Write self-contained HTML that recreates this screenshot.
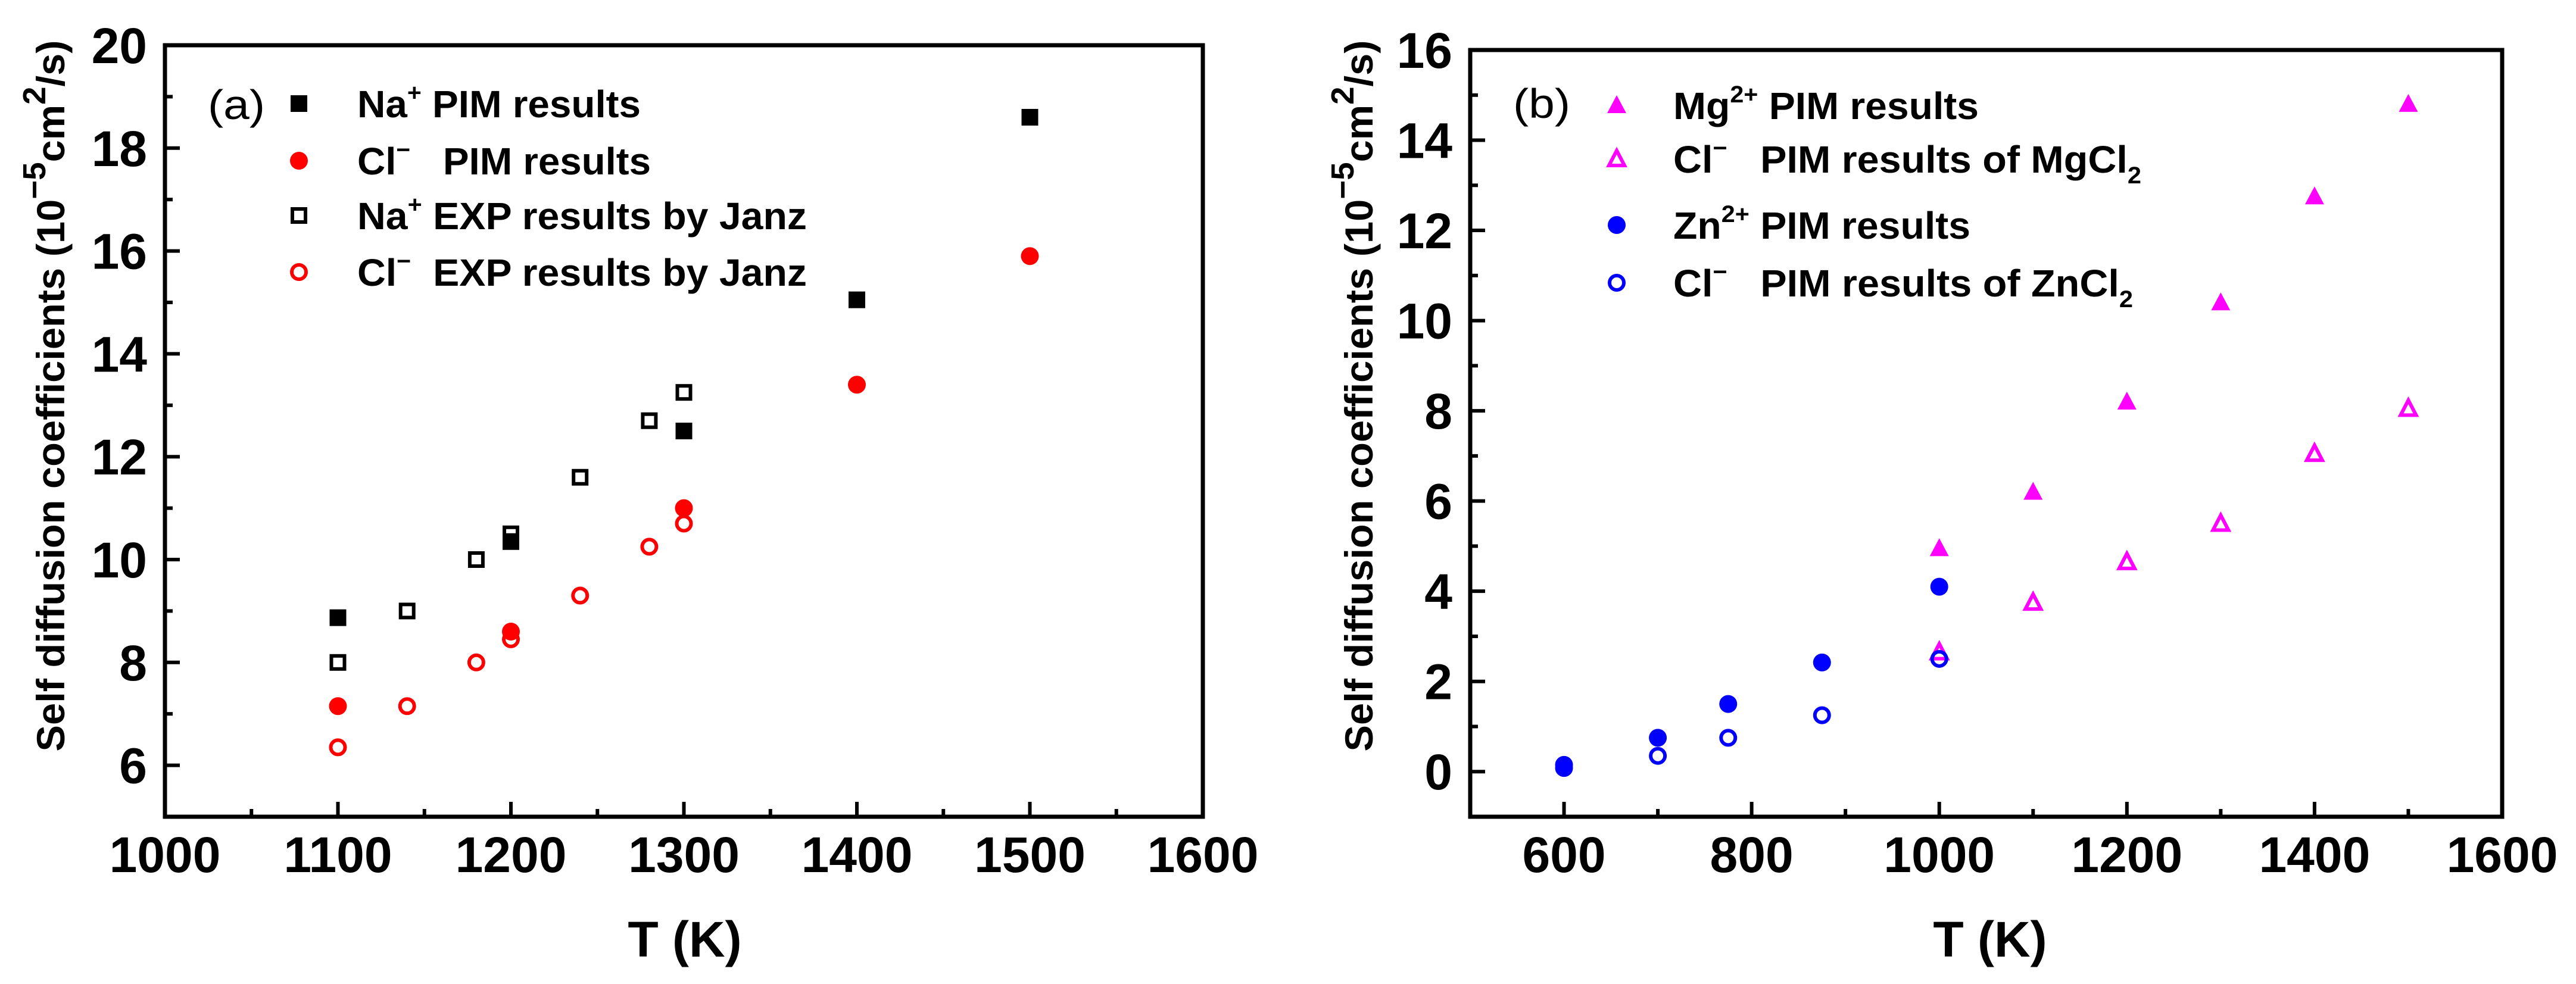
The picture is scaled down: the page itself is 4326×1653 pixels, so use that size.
<!DOCTYPE html>
<html><head><meta charset="utf-8"><style>
html,body{margin:0;padding:0;background:#fff;}
svg{display:block;font-family:"Liberation Sans",Arial,sans-serif;font-weight:bold;}
</style></head><body>
<svg id="fig" width="4326" height="1653" viewBox="0 0 4326 1653" xmlns="http://www.w3.org/2000/svg">
<rect x="0" y="0" width="4326" height="1653" fill="#fff"/>
</svg>
<script>
// Panel (a) data
const aNaPimT = [1100, 1200, 1300, 1400, 1500];
const aNaPimD = [8.87, 10.35, 12.5, 15.05, 18.6];
const aClPimT = [1100, 1200, 1300, 1400, 1500];
const aClPimD = [7.15, 8.6, 11.0, 13.4, 15.9];
const aNaExpT = [1100, 1140, 1180, 1200, 1240, 1280, 1300];
const aNaExpD = [8.0, 9.0, 10.0, 10.5, 11.6, 12.7, 13.25];
const aClExpT = [1100, 1140, 1180, 1200, 1240, 1280, 1300];
const aClExpD = [6.35, 7.15, 8.0, 8.45, 9.3, 10.25, 10.7];
const aXTicks = [1000, 1100, 1200, 1300, 1400, 1500, 1600];
const aYTicks = [6, 8, 10, 12, 14, 16, 18, 20];
// Panel (b) data
const bMgPimT = [1000, 1100, 1200, 1300, 1400, 1500];
const bMgPimD = [4.95, 6.2, 8.2, 10.4, 12.75, 14.8];
const bClMgT = [1000, 1100, 1200, 1300, 1400, 1500];
const bClMgD = [2.65, 3.75, 4.65, 5.5, 7.05, 8.05];
const bZnPimT = [600, 700, 775, 875, 1000];
const bZnPimD = [0.15, 0.75, 1.5, 2.42, 4.1];
const bClZnT = [600, 700, 775, 875, 1000];
const bClZnD = [0.08, 0.35, 0.75, 1.25, 2.5];
const bXTicks = [600, 800, 1000, 1200, 1400, 1600];
const bYTicks = [0, 2, 4, 6, 8, 10, 12, 14, 16];

const NS = "http://www.w3.org/2000/svg";
const svg = document.getElementById('fig');
function mk(tag, attrs, parent){
  const e = document.createElementNS(NS, tag);
  for (const k in attrs) e.setAttribute(k, attrs[k]);
  (parent || svg).appendChild(e);
  return e;
}
function axes(L, R, T, B, x0, x1, y0, y1){
  return {
    x: v => L + (v - x0) / (x1 - x0) * (R - L),
    y: v => B - (v - y0) / (y1 - y0) * (B - T)
  };
}
function marker(g, kind, color, cx, cy){
  let e;
  if (kind === 'fsq') e = mk('rect', {x: cx-14, y: cy-14, width: 28, height: 28, fill: color}, g);
  else if (kind === 'osq') e = mk('rect', {x: cx-11, y: cy-11, width: 22, height: 22, fill: 'none', stroke: color, 'stroke-width': 6}, g);
  else if (kind === 'fci') e = mk('circle', {cx: cx, cy: cy, r: 15, fill: color}, g);
  else if (kind === 'oci') e = mk('circle', {cx: cx, cy: cy, r: 12, fill: 'none', stroke: color, 'stroke-width': 6}, g);
  else if (kind === 'ftr') e = mk('polygon', {points: `${cx},${cy-17} ${cx+16},${cy+13} ${cx-16},${cy+13}`, fill: color}, g);
  else if (kind === 'otr') e = mk('polygon', {points: `${cx},${cy-14} ${cx+13},${cy+11} ${cx-13},${cy+11}`, fill: 'none', stroke: color, 'stroke-width': 6}, g);
  return e;
}
function series(name, s, T, D, kind, color){
  const g = mk('g', {});
  
  
  for (let i = 0; i < T.length; i++){
    const m = marker(g, kind, color, s.x(T[i]), s.y(D[i]));
    
    
  }
}
function frame(prefix, s, L, R, T, B, xMaj, xMinStep, yMaj, yMinStep, xr, yr){
  const g = mk('g', {});
  
  
  const box = mk('rect', {x: L, y: T, width: R-L, height: B-T, fill: 'none', stroke: '#000', 'stroke-width': 7}, g);
  
  
  for (let v = xr[0]; v <= xr[1] + 1e-9; v += xMinStep){
    const major = xMaj.includes(v);
    const len = major ? 25 : 13;
    mk('line', {x1: s.x(v), x2: s.x(v), y1: B, y2: B - len, stroke: '#000', 'stroke-width': 6}, g);
  }
  for (let v = yr[0]; v <= yr[1] + 1e-9; v += yMinStep){
    const major = yMaj.includes(v);
    const len = major ? 25 : 13;
    mk('line', {x1: L, x2: L + len, y1: s.y(v), y2: s.y(v), stroke: '#000', 'stroke-width': 6}, g);
  }
  xMaj.forEach(v => {
    const t = mk('text', {x: s.x(v), y: 1465, 'font-size': 84, 'text-anchor': 'middle'}, g);
    t.textContent = v;
    
    
  });
  yMaj.forEach(v => {
    const t = mk('text', {x: L - 30, y: s.y(v) + 30, 'font-size': 84, 'text-anchor': 'end'}, g);
    t.textContent = v;
    
    
  });
}
function ytitle(prefix, cx, cy){
  const t = mk('text', {x: 0, y: 0, 'font-size': 66, 'text-anchor': 'middle', textLength: 1195, lengthAdjust: 'spacingAndGlyphs', transform: `translate(${cx},${cy}) rotate(-90)`});
  t.innerHTML = 'Self diffusion coefficients (10<tspan dy="-32" font-size="54">−5</tspan><tspan dy="32">cm</tspan><tspan dy="-32" font-size="54">2</tspan><tspan dy="32">/s)</tspan>';
  
  
}
function xtitle(prefix, cx){
  const t = mk('text', {x: cx, y: 1607, 'font-size': 84, 'text-anchor': 'middle'});
  t.textContent = 'T (K)';
  
  
}
function legendEntry(name, mx, tx, cy, kind, color, html, len){
  const g = mk('g', {});
  
  
  marker(g, kind, color, mx, cy);
  const t = mk('text', {x: tx, y: cy + 23, 'font-size': 64, textLength: len, lengthAdjust: 'spacingAndGlyphs'}, g);
  t.innerHTML = html;
}
function label(name, x, y, txt){
  const t = mk('text', {x: x, y: y, 'font-size': 70, 'font-weight': 'normal', textLength: 96, lengthAdjust: 'spacingAndGlyphs'});
  t.textContent = txt;
  
  
}

// Panel a
const La = 277, Ra = 2020, Ta = 76, Ba = 1372;
const sa = axes(La, Ra, Ta, Ba, 1000, 1600, 5, 20);
frame('panel-a', sa, La, Ra, Ta, Ba, aXTicks, 50, aYTicks, 1, [1000, 1600], [5, 20]);
series('na-pim-series', sa, aNaPimT, aNaPimD, 'fsq', '#000');
series('cl-pim-series', sa, aClPimT, aClPimD, 'fci', '#f00');
series('na-exp-series', sa, aNaExpT, aNaExpD, 'osq', '#000');
series('cl-exp-series', sa, aClExpT, aClExpD, 'oci', '#f00');
ytitle('panel-a', 108, 665);
xtitle('panel-a', 1150);
label('panel-a-label', 349, 200, '(a)');
const sup = s => `<tspan dy="-28" font-size="40">${s}</tspan><tspan dy="28">`;
legendEntry('legend-na-pim', 502, 600, 174, 'fsq', '#000', 'Na' + sup('+') + ' PIM results</tspan>', 476);
legendEntry('legend-cl-pim', 502, 600, 270, 'fci', '#f00', 'Cl' + sup('−') + '&#160;&#160;&#160;PIM results</tspan>', 493);
legendEntry('legend-na-exp', 502, 600, 362, 'osq', '#000', 'Na' + sup('+') + ' EXP results by Janz</tspan>', 755);
legendEntry('legend-cl-exp', 502, 600, 457, 'oci', '#f00', 'Cl' + sup('−') + '&#160;&#160;EXP results by Janz</tspan>', 755);

// Panel b
const Lb = 2469, Rb = 4202, Tb = 84, Bb = 1372;
const sb = axes(Lb, Rb, Tb, Bb, 500, 1600, -1, 16);
frame('panel-b', sb, Lb, Rb, Tb, Bb, bXTicks, 100, bYTicks, 1, [500, 1600], [-1, 16]);
series('mg-pim-series', sb, bMgPimT, bMgPimD, 'ftr', '#f0f');
series('cl-mgcl2-series', sb, bClMgT, bClMgD, 'otr', '#f0f');
series('zn-pim-series', sb, bZnPimT, bZnPimD, 'fci', '#00f');
series('cl-zncl2-series', sb, bClZnT, bClZnD, 'oci', '#00f');
ytitle('panel-b', 2305, 665);
xtitle('panel-b', 3342);
label('panel-b-label', 2541, 198, '(b)');
const sub = s => `<tspan dy="18" font-size="40">${s}</tspan>`;
legendEntry('legend-mg-pim', 2715, 2810, 177, 'ftr', '#f0f', 'Mg' + sup('2+') + ' PIM results</tspan>', 513);
legendEntry('legend-cl-mgcl2', 2715, 2810, 267, 'otr', '#f0f', 'Cl' + sup('−') + '&#160;&#160;&#160;PIM results of MgCl</tspan>' + sub('2'), 786);
legendEntry('legend-zn-pim', 2715, 2810, 378, 'fci', '#00f', 'Zn' + sup('2+') + ' PIM results</tspan>', 499);
legendEntry('legend-cl-zncl2', 2715, 2810, 475, 'oci', '#00f', 'Cl' + sup('−') + '&#160;&#160;&#160;PIM results of ZnCl</tspan>' + sub('2'), 772);
</script>
</body></html>
